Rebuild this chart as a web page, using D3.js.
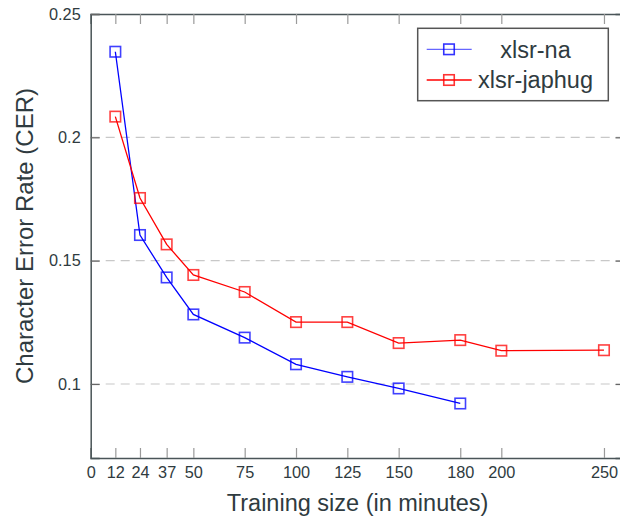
<!DOCTYPE html>
<html>
<head>
<meta charset="utf-8">
<title>CER vs training size</title>
<script src="https://cdn.jsdelivr.net/npm/d3@7"></script>
<style>
  body { margin: 0; background: #fff; }
  svg { font-family: "Liberation Sans", Arial, sans-serif; }
</style>
</head>
<body>
<svg id="chart" width="620" height="516"></svg>
<script>
// data
var minutesNa = [12, 24, 37, 50, 75, 100, 125, 150, 180];
var cerNa = [0.2347, 0.1604, 0.1432, 0.1282, 0.1188, 0.1080, 0.1029, 0.0982, 0.0921];
var minutesJaphug = [12, 24, 37, 50, 75, 100, 125, 150, 180, 200, 250];
var cerJaphug = [0.2084, 0.1754, 0.1566, 0.1442, 0.1373, 0.1251, 0.1251, 0.1166, 0.1178, 0.1135, 0.1137];
var xTicks = [0, 12, 24, 37, 50, 75, 100, 125, 150, 180, 200, 250];
var yTicks = [0.1, 0.15, 0.2, 0.25];
var seriesNames = ["xlsr-na", "xlsr-japhug"];

var textColor = "#2f3b40";
var svg = d3.select("#chart");

// plot box (note: "top" is a reserved window name, so use m*)
var mLeft = 90.7, mRight = 624.5, mTop = 14, mBottom = 458;

var x = d3.scaleLinear().domain([0, 260]).range([mLeft, mRight]);
var y = d3.scaleLinear().domain([0.07, 0.25]).range([mBottom, mTop]);

// grid lines
svg.append("g").selectAll("line")
    .data(yTicks.filter(function(d) { return d < 0.25; }))
    .enter().append("line")
    .attr("x1", mLeft).attr("x2", mRight)
    .attr("y1", function(d) { return y(d); })
    .attr("y2", function(d) { return y(d); })
    .attr("stroke", "#c8c8c8")
    .attr("stroke-width", 1.2)
    .attr("stroke-dasharray", "9,6");

// bottom axis
var xAxis = svg.append("g")
    .attr("transform", "translate(0," + mBottom + ")")
    .call(d3.axisBottom(x).tickValues(xTicks).tickSize(-10).tickPadding(8).tickFormat(d3.format("d")));
// top axis ticks only
var xTop = svg.append("g")
    .attr("transform", "translate(0," + mTop + ")")
    .call(d3.axisTop(x).tickValues(xTicks.slice(1)).tickSize(-10).tickFormat(""));
// left axis
var yAxis = svg.append("g")
    .attr("transform", "translate(" + mLeft + ",0)")
    .call(d3.axisLeft(y).tickValues(yTicks).tickSize(-9).tickPadding(10).tickFormat(d3.format("")));
// right axis ticks only
var yRight = svg.append("g")
    .attr("transform", "translate(" + mRight + ",0)")
    .call(d3.axisRight(y).tickValues(yTicks.slice(0, 3)).tickSize(-9).tickFormat(""));

[xAxis, xTop, yAxis, yRight].forEach(function(g) {
    g.attr("font-family", "Liberation Sans, Arial, sans-serif");
    g.select(".domain").attr("stroke", "#4a5558").attr("stroke-width", 1.5);
    g.selectAll(".tick line").attr("stroke", "#9a9a9a").attr("stroke-width", 1.2);
    g.selectAll("text").attr("fill", textColor);
});
xAxis.attr("font-size", 16.3);
yAxis.attr("font-size", 16.3);
yAxis.selectAll(".tick line").attr("stroke", "#666");
yRight.selectAll(".tick line").attr("stroke", "#666");

// series
var series = [
    { name: seriesNames[0], xs: minutesNa, ys: cerNa, color: "#0000ff" },
    { name: seriesNames[1], xs: minutesJaphug, ys: cerJaphug, color: "#ff0000" }
];
var line = d3.line()
    .x(function(d) { return x(d[0]); })
    .y(function(d) { return y(d[1]); });

var markSize = 10.5;
series.forEach(function(s) {
    var pts = d3.zip(s.xs, s.ys);
    svg.append("path")
        .datum(pts)
        .attr("d", line)
        .attr("fill", "none")
        .attr("stroke", s.color)
        .attr("stroke-width", 1.3);
    svg.append("g").selectAll("rect")
        .data(pts)
        .enter().append("rect")
        .attr("x", function(d) { return x(d[0]) - markSize / 2; })
        .attr("y", function(d) { return y(d[1]) - markSize / 2; })
        .attr("width", markSize)
        .attr("height", markSize)
        .attr("fill", "none")
        .attr("stroke", s.color)
        .attr("stroke-opacity", 0.75)
        .attr("stroke-width", 1.6);
});

// legend
var legend = svg.append("g");
legend.append("rect")
    .attr("x", 417.7).attr("y", 28.3)
    .attr("width", 190.6).attr("height", 72.4)
    .attr("fill", "#fff")
    .attr("stroke", "#555")
    .attr("stroke-width", 1.5);
series.forEach(function(s, i) {
    var ly = 49.3 + i * 30.7;
    legend.append("line")
        .attr("x1", 426.7).attr("x2", 471.7)
        .attr("y1", ly).attr("y2", ly)
        .attr("stroke", s.color)
        .attr("stroke-opacity", i == 0 ? 0.6 : 1)
        .attr("stroke-width", 1.3);
    legend.append("rect")
        .attr("x", 449 - markSize / 2).attr("y", ly - markSize / 2)
        .attr("width", markSize).attr("height", markSize)
        .attr("fill", "none")
        .attr("stroke", s.color)
        .attr("stroke-opacity", 0.8)
        .attr("stroke-width", 1.6);
    legend.append("text")
        .attr("x", 535.5).attr("y", ly)
        .attr("dy", "0.35em")
        .attr("text-anchor", "middle")
        .attr("font-size", 23.5)
        .attr("fill", textColor)
        .text(s.name);
});

// axis titles
svg.append("text")
    .attr("x", (mLeft + mRight) / 2)
    .attr("y", 511)
    .attr("text-anchor", "middle")
    .attr("font-size", 23.5)
    .attr("fill", textColor)
    .text("Training size (in minutes)");

svg.append("text")
    .attr("transform", "translate(33," + (mTop + mBottom) / 2 + ") rotate(-90)")
    .attr("text-anchor", "middle")
    .attr("font-size", 24)
    .attr("fill", textColor)
    .text("Character Error Rate (CER)");
</script>
</body>
</html>
